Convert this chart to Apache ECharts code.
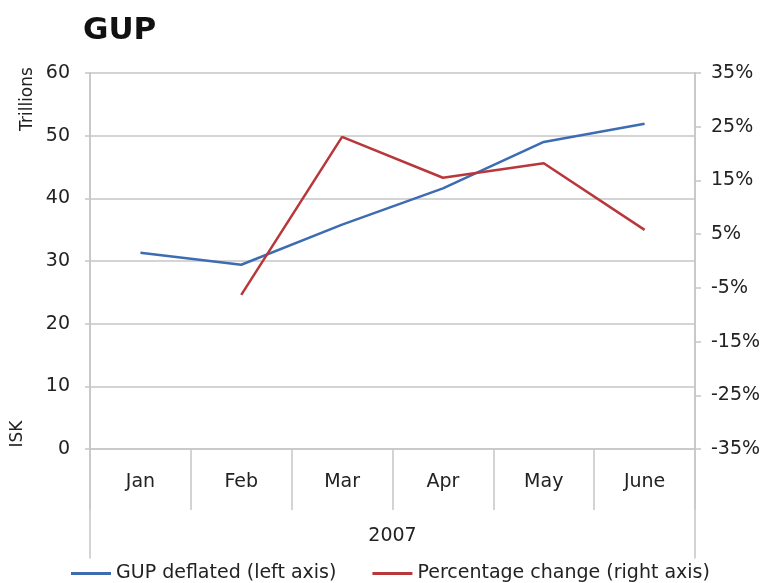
<!DOCTYPE html>
<html>
<head>
<meta charset="utf-8">
<script src="https://cdn.jsdelivr.net/npm/echarts@6/dist/echarts.min.js"></script>
<style>
  html, body { margin: 0; padding: 0; background: #fff; }
  #chart { width: 769px; height: 583px; }
</style>
</head>
<body>
<div id="chart"></div>
<script>
// data
const months = ["Jan", "Feb", "Mar", "Apr", "May", "June"];
const gupDeflated = [31.3, 29.4, 35.8, 41.6, 49.0, 51.9];    // trillions ISK, left axis
const pctChange = [null, -6.3, 23.1, 15.5, 18.2, 5.8];       // %, right axis
const yearName = "2007";

const font = "DejaVu Sans";
const gray = "#c6c6c6";
const textColor = "#222";
const fs = 19;

const chart = echarts.init(document.getElementById("chart"));
chart.setOption({
  animation: false,
  backgroundColor: "#fff",
  title: {
    text: "GUP",
    left: 78,
    top: 10,
    textStyle: { fontFamily: font, fontSize: 31, fontWeight: "bold", color: "#111" }
  },
  grid: [
    { left: 90, right: 74, top: 73, bottom: 134, containLabel: false },
    // taller frame: only its side lines are shown, running down past the month row
    { left: 90, right: 74, top: 73, bottom: 25, containLabel: false }
  ],
  legend: {
    left: 66,
    top: 559,
    itemWidth: 40,
    itemHeight: 3,
    itemGap: 36,
    icon: "rect",
    textStyle: { fontFamily: font, fontSize: fs, color: textColor }
  },
  graphic: [
    {
      type: "text", x: 28, y: 99, rotation: Math.PI / 2,
      style: { text: "Trillions", font: "17px DejaVu Sans", fill: textColor, textAlign: "center", textVerticalAlign: "middle" }
    },
    {
      type: "text", x: 18, y: 434, rotation: Math.PI / 2,
      style: { text: "ISK", font: "17px DejaVu Sans", fill: textColor, textAlign: "center", textVerticalAlign: "middle" }
    }
  ],
  xAxis: [
    {
      type: "category",
      gridIndex: 0,
      data: months,
      boundaryGap: true,
      name: yearName,
      nameLocation: "middle",
      nameGap: 78,
      nameTextStyle: { fontFamily: font, fontSize: fs, color: textColor },
      axisLine: { show: true, lineStyle: { color: gray, width: 1.5 } },
      axisTick: { show: true, length: 61, lineStyle: { color: gray, width: 1.5 } },
      axisLabel: { margin: 24, fontFamily: font, fontSize: fs, color: textColor }
    },
    {
      type: "category",
      gridIndex: 1,
      data: months,
      show: false
    }
  ],
  yAxis: [
    {
      type: "value",
      gridIndex: 0,
      min: 0,
      max: 60,
      interval: 10,
      axisLine: { show: true, lineStyle: { color: gray, width: 1.5 } },
      axisTick: { show: true, length: 5, lineStyle: { color: gray, width: 1.5 } },
      splitLine: { show: true, lineStyle: { color: gray, width: 1.5 } },
      axisLabel: { margin: 20, fontFamily: font, fontSize: fs, color: textColor }
    },
    {
      type: "value",
      gridIndex: 0,
      position: "right",
      min: -35,
      max: 35,
      interval: 10,
      axisLine: { show: true, lineStyle: { color: gray, width: 1.5 } },
      axisTick: { show: true, length: 6, lineStyle: { color: gray, width: 1.5 } },
      splitLine: { show: false },
      axisLabel: { margin: 16, fontFamily: font, fontSize: fs, color: textColor, formatter: "{value}%" }
    },
    {
      type: "value",
      gridIndex: 1,
      position: "left",
      axisLine: { show: true, lineStyle: { color: gray, width: 1.5 } },
      axisTick: { show: false },
      axisLabel: { show: false },
      splitLine: { show: false }
    },
    {
      type: "value",
      gridIndex: 1,
      position: "right",
      axisLine: { show: true, lineStyle: { color: gray, width: 1.5 } },
      axisTick: { show: false },
      axisLabel: { show: false },
      splitLine: { show: false }
    }
  ],
  series: [
    {
      name: "GUP deflated (left axis)",
      type: "line",
      data: gupDeflated,
      xAxisIndex: 0,
      yAxisIndex: 0,
      symbol: "none",
      itemStyle: { color: "#3d6cb3" },
      lineStyle: { color: "#3d6cb3", width: 2.5 }
    },
    {
      name: "Percentage change (right axis)",
      type: "line",
      data: pctChange,
      xAxisIndex: 0,
      yAxisIndex: 1,
      symbol: "none",
      itemStyle: { color: "#b8373a" },
      lineStyle: { color: "#b8373a", width: 2.5 }
    }
  ]
});
</script>
</body>
</html>
